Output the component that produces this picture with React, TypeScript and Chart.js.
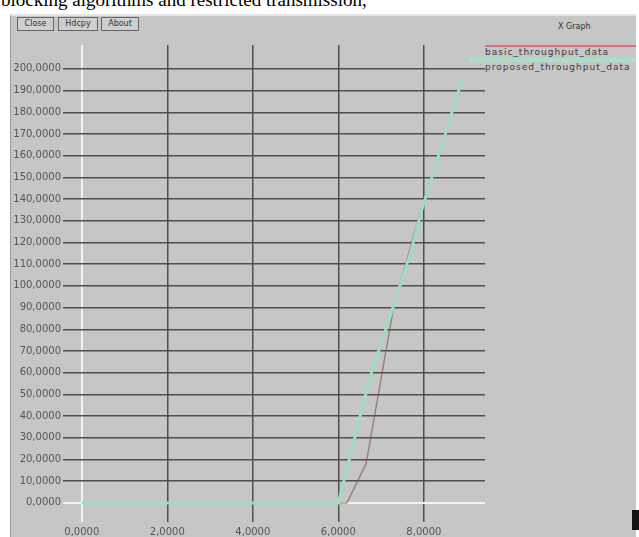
import React, { useEffect, useRef } from "react";
import { Chart, registerables } from "chart.js";

Chart.register(...registerables);

// ---- data ----
const X_TICKS = [0, 2, 4, 6, 8];
const X_TICK_LABELS = ["0,0000", "2,0000", "4,0000", "6,0000", "8,0000"];
const Y_TICKS = [0, 10, 20, 30, 40, 50, 60, 70, 80, 90, 100, 110, 120, 130, 140, 150, 160, 170, 180, 190, 200];

const SERIES_A_NAME = "basic_throughput_data";
const SERIES_A_X = [0, 2, 4, 6, 6.2, 6.65, 7.3, 7.95, 8.9];
const SERIES_A_Y = [0, 0, 0, 0, 0, 18, 91, 136, 195];

const SERIES_B_NAME = "proposed_throughput_data";
const SERIES_B_X = [0, 2, 4, 6, 6.74, 7.28, 7.7, 7.95, 8.91];
const SERIES_B_Y = [0, 0, 0, 0, 58, 90, 116, 135, 196];

const fmt = (v: number) => v.toFixed(4).replace(".", ",");

export default function App() {
  const ref = useRef<HTMLCanvasElement | null>(null);

  useEffect(() => {
    if (!ref.current) return;
    const chart = new Chart(ref.current, {
      type: "scatter",
      data: {
        datasets: [
          {
            label: SERIES_B_NAME,
            data: SERIES_B_X.map((x, i) => ({ x, y: SERIES_B_Y[i] })),
            showLine: true,
            borderColor: "#9fdcc0",
            borderWidth: 3,
            pointRadius: 0,
            tension: 0,
          },
          {
            label: SERIES_A_NAME,
            data: SERIES_A_X.map((x, i) => ({ x, y: SERIES_A_Y[i] })),
            showLine: true,
            borderColor: "rgba(125,85,70,0.6)",
            borderWidth: 1.5,
            pointRadius: 0,
            tension: 0,
          },
        ],
      },
      options: {
        animation: false,
        responsive: false,
        maintainAspectRatio: false,
        layout: { padding: { left: 0, top: 45, right: 154, bottom: 0 } },
        plugins: { legend: { display: false }, tooltip: { enabled: false } },
        scales: {
          x: {
            type: "linear",
            min: -0.44,
            max: 9.43,
            border: { display: false },
            afterFit: (s: any) => {
              s.height = 15;
            },
            afterBuildTicks: (s: any) => {
              s.ticks = X_TICKS.map((v) => ({ value: v }));
            },
            grid: {
              drawTicks: false,
              color: (c: any) => (c.tick && c.tick.value === 0 ? "#f4f4f4" : "#4e4e4e"),
              lineWidth: (c: any) => (c.tick && c.tick.value === 0 ? 2 : 1.5),
            },
            ticks: {
              padding: 4,
              autoSkip: false,
              maxRotation: 0,
              color: "#555555",
              font: { family: "DejaVu Sans", size: 10 },
              callback: (v: any) => {
                const i = X_TICKS.indexOf(Number(v));
                return i >= 0 ? X_TICK_LABELS[i] : "";
              },
            },
          },
          y: {
            type: "linear",
            min: -8.8,
            max: 211,
            border: { display: false },
            afterFit: (s: any) => {
              s.width = 63;
            },
            afterBuildTicks: (s: any) => {
              s.ticks = Y_TICKS.map((v) => ({ value: v }));
            },
            grid: {
              drawTicks: false,
              color: (c: any) => (c.tick && c.tick.value === 0 ? "#f4f4f4" : "#4e4e4e"),
              lineWidth: (c: any) => (c.tick && c.tick.value === 0 ? 2 : 1.5),
            },
            ticks: {
              padding: 2,
              autoSkip: false,
              color: "#555555",
              font: { family: "DejaVu Sans", size: 10 },
              callback: (v: any) => fmt(Number(v)),
            },
          },
        },
      },
    });
    return () => chart.destroy();
  }, []);

  const btn: React.CSSProperties = {
    position: "absolute",
    top: 17,
    height: 12,
    border: "1px solid #666",
    background: "#cfcfcf",
    font: "8px 'DejaVu Sans'",
    color: "#333",
    lineHeight: "12px",
    textAlign: "center",
  };

  const legendText: React.CSSProperties = {
    position: "absolute",
    left: 485,
    font: "9px 'DejaVu Sans'",
    letterSpacing: "1px",
    color: "#3a3a3a",
    whiteSpace: "nowrap",
  };

  return (
    <div
      style={{
        position: "fixed",
        left: 0,
        top: 0,
        width: 639,
        height: 537,
        background: "#ffffff",
        overflow: "hidden",
      }}
    >
      <div
        style={{
          position: "absolute",
          left: 1,
          top: -10,
          font: "19px 'Liberation Serif'",
          lineHeight: "19px",
          whiteSpace: "nowrap",
          color: "#000",
        }}
      >
        blocking algorithms and restricted transmission,
      </div>
      <div
        style={{
          position: "absolute",
          left: 10,
          top: 14,
          width: 626,
          height: 523,
          background: "#c6c6c6",
          borderTop: "2px solid #e4e4e4",
          borderLeft: "1px solid #9a9a9a",
          boxSizing: "border-box",
        }}
      />
      <div style={{ ...btn, left: 17, width: 35 }}>Close</div>
      <div style={{ ...btn, left: 58, width: 38 }}>Hdcpy</div>
      <div style={{ ...btn, left: 101, width: 36 }}>About</div>
      <div
        style={{
          position: "absolute",
          left: 558,
          top: 22,
          font: "8px 'DejaVu Sans'",
          color: "#333",
          whiteSpace: "nowrap",
        }}
      >
        X Graph
      </div>
      {/* legend */}
      <div style={{ position: "absolute", left: 485, top: 45, width: 151, height: 2, background: "#e07080" }} />
      <div style={{ ...legendText, top: 47 }}>{SERIES_A_NAME}</div>
      <div style={{ position: "absolute", left: 470, top: 58, width: 166, height: 4, background: "#a8e0c6" }} />
      <div style={{ ...legendText, top: 62 }}>{SERIES_B_NAME}</div>
      <canvas ref={ref} width={639} height={537} style={{ position: "absolute", left: 0, top: 0, width: 639, height: 537 }} />
      <div style={{ position: "absolute", left: 632, top: 510, width: 7, height: 20, background: "#111" }} />
    </div>
  );
}
